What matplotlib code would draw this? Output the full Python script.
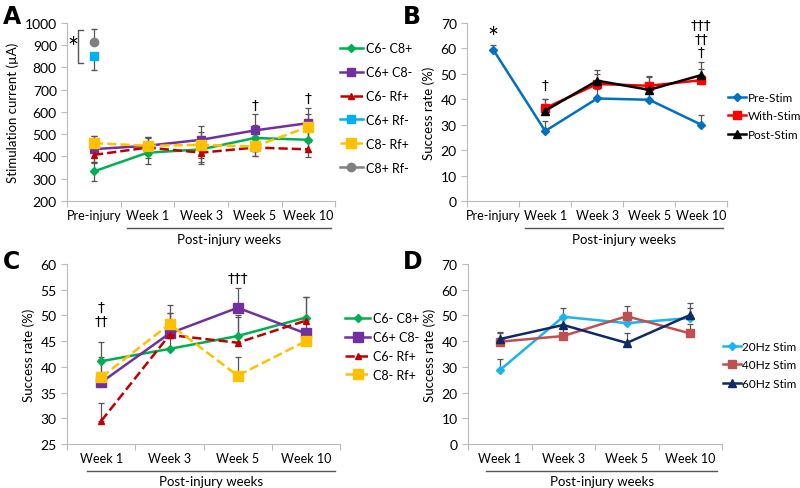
import numpy as np
import matplotlib.pyplot as plt
from matplotlib.transforms import blended_transform_factory

plt.rcParams['font.family'] = ['Lato', 'DejaVu Sans']

# ---- panel A data: stimulation current (uA)
cats_a = ['Pre-injury', 'Week 1', 'Week 3', 'Week 5', 'Week 10']
a_c6m_c8p = [333, 417, 432, 483, 475]
a_c6m_c8p_err = [43, 50, 55, 60, 55]
a_c6p_c8m = [433, 448, 475, 517, 550]
a_c6p_c8m_err = [60, 40, 62, 75, 70]
a_c6m_rfp = [407, 440, 417, 440, 432]
a_c6m_rfp_err = [35, 45, 50, 40, 35]
a_c8m_rfp = [460, 448, 452, 445, 533]
a_c8m_rfp_err = [33, 40, 60, 45, 60]
a_c6p_rfm = [850]
a_c6p_rfm_err = [63]
a_c8p_rfm = [916]
a_c8p_rfm_err = [57]

# ---- panel B data: success rate (%)
cats_b = ['Pre-injury', 'Week 1', 'Week 3', 'Week 5', 'Week 10']
b_pre = [59.5, 27.5, 40.3, 39.8, 30.0]
b_pre_err = [2, 4, 3.7, 4, 4]
b_with = [36.5, 46.0, 45.3, 47.5]
b_with_err = [3.5, 4, 3.5, 4.5]
b_post = [35.5, 47.3, 43.7, 49.5]
b_post_err = [4.5, 4.3, 5.4, 5]

# ---- panel C data: success rate (%)
cats_c = ['Week 1', 'Week 3', 'Week 5', 'Week 10']
c_c6m_c8p = [41.1, 43.5, 46.0, 49.6]
c_c6m_c8p_err = [3.8, 4.5, 4.0, 4.0]
c_c6p_c8m = [37.0, 46.5, 51.5, 46.5]
c_c6p_c8m_err = [4.5, 4.0, 3.8, 3.0]
c_c6m_rfp = [29.5, 46.2, 44.7, 49.0]
c_c6m_rfp_err = [3.5, 4.3, 5.0, 4.5]
c_c8m_rfp = [38.0, 48.3, 38.3, 45.0]
c_c8m_rfp_err = [4.0, 3.7, 3.7, 2.0]

# ---- panel D data: success rate (%)
cats_d = ['Week 1', 'Week 3', 'Week 5', 'Week 10']
d_20 = [28.7, 49.5, 47.0, 49.0]
d_20_err = [4.5, 3.5, 3.0, 4.0]
d_40 = [39.8, 42.0, 49.7, 43.0]
d_40_err = [3.5, 3.0, 3.8, 3.7]
d_60 = [40.8, 46.3, 39.3, 50.2]
d_60_err = [2.8, 3.0, 3.8, 4.5]

ERR = '#555555'


def series(ax, x, y, err, color, marker, ls='-', ms=6, label=None, both=False):
    yerr = err if both else [np.zeros(len(err)), err]
    ax.errorbar(x, y, yerr=yerr, fmt='none', ecolor=ERR, elinewidth=0.9,
                capsize=2, capthick=0.9, zorder=2)
    ax.plot(x, y, color=color, marker=marker, ls=ls, lw=1.8, ms=ms,
            label=label, zorder=3)


def style_axis(ax, cats, ylim, yticks, ylabel, under_from, line_y, text_y):
    n = len(cats)
    ax.set_xlim(0.5, n + 0.5)
    ax.set_ylim(*ylim)
    ax.set_yticks(yticks)
    ax.set_xticks(np.arange(0.5, n + 1, 1))
    ax.set_xticklabels([])
    ax.set_xticks(np.arange(1, n + 1), minor=True)
    ax.set_xticklabels(cats, minor=True, fontsize=9)
    ax.tick_params(axis='x', which='minor', length=0, pad=6)
    ax.tick_params(axis='x', which='major', length=4, color='#bbbbbb')
    ax.tick_params(axis='y', length=4, color='#bbbbbb', labelsize=10)
    for s in ['top', 'right']:
        ax.spines[s].set_visible(False)
    for s in ['left', 'bottom']:
        ax.spines[s].set_color('#bbbbbb')
    ax.set_ylabel(ylabel, fontsize=9.5)
    trans = blended_transform_factory(ax.transData, ax.transAxes)
    x0, x1 = under_from, n + 0.42
    ax.plot([x0, x1], [line_y, line_y], color='#555555', lw=1,
            transform=trans, clip_on=False)
    ax.text((x0 + x1) / 2, text_y, 'Post-injury weeks', transform=trans,
            ha='center', va='center', fontsize=9.5)


def dagger(ax, x, y, s):
    ax.text(x, y, s, fontsize=10, ha='center', va='center', family='DejaVu Sans')


fig = plt.figure(figsize=(8, 4.89), dpi=100)
for lx, ly, letter in [(0.004, 0.965, 'A'), (0.503, 0.965, 'B'),
                       (0.004, 0.465, 'C'), (0.503, 0.465, 'D')]:
    fig.text(lx, ly, letter, fontsize=17, fontweight='bold',
             family='DejaVu Sans', ha='left', va='center')

# ---------------- A
axA = fig.add_axes([0.084, 0.587, 0.335, 0.364])
xa = np.arange(1, len(cats_a) + 1)
series(axA, xa, a_c6m_c8p, a_c6m_c8p_err, '#00B050', 'D', ms=4, label='C6- C8+', both=True)
series(axA, xa, a_c6p_c8m, a_c6p_c8m_err, '#7030A0', 's', label='C6+ C8-', both=True)
series(axA, xa, a_c6m_rfp, a_c6m_rfp_err, '#C00000', '^', ls='--', ms=5, label='C6- Rf+', both=True)
axA.errorbar(xa[:1], a_c6p_rfm, yerr=[a_c6p_rfm_err, [0]], fmt='none', ecolor=ERR,
             elinewidth=0.9, capsize=2, zorder=2)
axA.plot(xa[:1], a_c6p_rfm, color='#00B0F0', marker='s', ms=6, lw=1.8,
         label='C6+ Rf-', zorder=3)
series(axA, xa, a_c8m_rfp, a_c8m_rfp_err, '#FFC000', 's', ls='--', ms=7, label='C8- Rf+', both=True)
axA.errorbar(xa[:1], a_c8p_rfm, yerr=[[0], a_c8p_rfm_err], fmt='none', ecolor=ERR,
             elinewidth=0.9, capsize=2, zorder=2)
axA.plot(xa[:1], a_c8p_rfm, color='#808080', marker='o', ms=6, lw=1.8,
         label='C8+ Rf-', zorder=3)
style_axis(axA, cats_a, (200, 1000), np.arange(200, 1001, 100),
           'Stimulation current (µA)', 1.62, -0.152, -0.215)
axA.plot([0.79, 0.7, 0.7, 0.79], [970, 970, 819, 819], color='#555555', lw=1)
axA.text(0.6, 885, '*', fontsize=19, ha='center', va='center')
dagger(axA, 4, 632, '†')
dagger(axA, 5, 663, '†')
axA.legend(loc='upper left', bbox_to_anchor=(1.0, 0.92), frameon=False,
           fontsize=9, handlelength=1.8, handletextpad=0.3, labelspacing=0.95,
           borderaxespad=0)

# ---------------- B
axB = fig.add_axes([0.584, 0.587, 0.325, 0.364])
xb = np.arange(1, len(cats_b) + 1)
series(axB, xb, b_pre, b_pre_err, '#0070C0', 'D', ms=4, label='Pre-Stim')
series(axB, xb[1:], b_with, b_with_err, '#FF0000', 's', ms=6, label='With-Stim')
series(axB, xb[1:], b_post, b_post_err, '#000000', '^', ms=6, label='Post-Stim')
style_axis(axB, cats_b, (0, 70), np.arange(0, 71, 10),
           'Success rate (%)', 1.62, -0.152, -0.215)
axB.text(1, 64, '*', fontsize=19, ha='center', va='center')
dagger(axB, 2, 45.5, '†')
dagger(axB, 5, 58.5, '†')
dagger(axB, 5, 63.6, '††')
dagger(axB, 5, 69.3, '†††')
axB.legend(loc='upper left', bbox_to_anchor=(0.985, 0.64), frameon=False,
           fontsize=8.5, handlelength=1.5, handletextpad=0.15, labelspacing=0.65,
           borderaxespad=0)

# ---------------- C
axC = fig.add_axes([0.084, 0.090, 0.341, 0.368])
xc = np.arange(1, len(cats_c) + 1)
series(axC, xc, c_c6m_c8p, c_c6m_c8p_err, '#00B050', 'D', ms=4, label='C6- C8+')
series(axC, xc, c_c6p_c8m, c_c6p_c8m_err, '#7030A0', 's', ms=7, label='C6+ C8-')
series(axC, xc, c_c6m_rfp, c_c6m_rfp_err, '#C00000', '^', ls='--', ms=5, label='C6- Rf+')
series(axC, xc, c_c8m_rfp, c_c8m_rfp_err, '#FFC000', 's', ls='--', ms=7, label='C8- Rf+')
style_axis(axC, cats_c, (25, 60), np.arange(25, 61, 5),
           'Success rate (%)', 0.79, -0.15, -0.205)
dagger(axC, 1, 51.7, '†')
dagger(axC, 1, 49.0, '††')
dagger(axC, 3, 57.3, '†††')
axC.legend(loc='upper left', bbox_to_anchor=(1.0, 0.76), frameon=False,
           fontsize=9, handlelength=2.0, handletextpad=0.2, labelspacing=0.55,
           borderaxespad=0)

# ---------------- D
axD = fig.add_axes([0.585, 0.090, 0.3175, 0.368])
xd = np.arange(1, len(cats_d) + 1)
series(axD, xd, d_20, d_20_err, '#1CB4EE', 'D', ms=4, label='20Hz Stim')
series(axD, xd, d_40, d_40_err, '#C0504D', 's', ms=6, label='40Hz Stim')
series(axD, xd, d_60, d_60_err, '#0F2A66', '^', ms=6, label='60Hz Stim')
style_axis(axD, cats_d, (0, 70), np.arange(0, 71, 10),
           'Success rate (%)', 0.79, -0.15, -0.205)
axD.legend(loc='upper left', bbox_to_anchor=(0.985, 0.6), frameon=False,
           fontsize=8.5, handlelength=1.5, handletextpad=0.15, labelspacing=0.65,
           borderaxespad=0)

fig.savefig('out.png', dpi=100)
